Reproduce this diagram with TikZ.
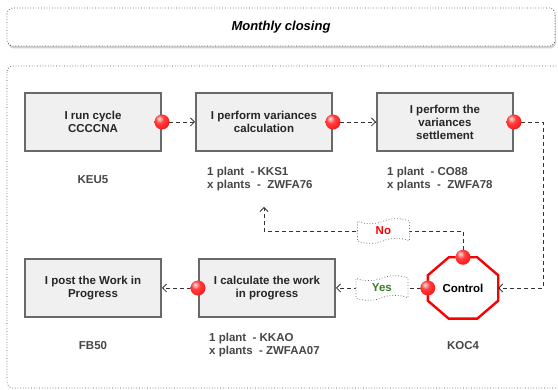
\documentclass[tikz,border=0pt]{standalone}
\usepackage{fontspec}
\setmainfont{Liberation Sans}
\usetikzlibrary{arrows.meta, shapes.symbols, shadows}
\definecolor{boxfill}{RGB}{240, 240, 240}
\definecolor{boxline}{RGB}{105, 105, 105}
\definecolor{txt}{RGB}{70, 70, 70}
\definecolor{yesgreen}{RGB}{60, 125, 40}
\definecolor{ctrlred}{RGB}{250, 0, 0}
\pgfdeclareradialshading{reddot}{\pgfpoint{-10bp}{12bp}}{%
  color(0bp)=(red!10!white); color(14bp)=(red!75!white); color(36bp)=(red!95!white);
  color(52bp)=(red!80!black); color(70bp)=(red!80!black)}
\tikzset{
  task/.style={draw=boxline, line width=2pt, fill=boxfill, minimum width=136pt,
    minimum height=58pt, align=center, font=\bfseries\fontsize{11.5}{13}\selectfont, text=black!85},
  tcode/.style={inner sep=0pt, align=left, text=txt, font=\bfseries\fontsize{11.5}{13}\selectfont},
  dot/.style={circle, inner sep=0pt, minimum size=15pt, shading=reddot},
  flow/.style={draw=black!80, line width=0.8pt, dash pattern=on 4pt off 3pt,
    -{Straight Barb[length=4pt, width=8pt]}},
  lbl/.style={tape, draw=black!55, dotted, fill=white, minimum width=52pt, minimum height=22pt,
    tape bend height=5pt, font=\bfseries\fontsize{11.5}{13}\selectfont},
  frame/.style={draw=black!70, dotted, line width=0.7pt, rounded corners=6pt}
}

\begin{document}
\begin{tikzpicture}[x=1pt, y=-1pt]
  \useasboundingbox (0, 0) rectangle (558, 390);

  % header
  \draw[frame, fill=white, drop shadow={shadow xshift=1pt, shadow yshift=-2.5pt, fill=black!35}]
    (7, 8) rectangle (555, 46);
  \node[font=\bfseries\itshape\fontsize{13}{15}\selectfont] (title) at (281, 27) {Monthly closing};

  % process frame
  \draw[frame] (7, 66) rectangle (566, 388);

  % steps
  \node[task] (b1) at (93, 122) {I run cycle\\CCCCNA};
  \node[task] (b2) at (264, 122) {I perform variances\\calculation};
  \node[task] (b3) at (445, 122) {I perform the\\variances\\settlement};
  \node[task] (b4) at (93, 288) {I post the Work in\\Progress};
  \node[task] (b5) at (267, 288) {I calculate the work\\in progress};
  \node[minimum width=70pt, minimum height=61pt,
    font=\bfseries\fontsize{11.5}{13}\selectfont] (ctrl) at (463, 288) {Control};
  \draw[ctrlred, line width=2.4pt, line join=miter]
    ([xshift=21pt]ctrl.north west) -- ([xshift=-21pt]ctrl.north east)
    -- ([yshift=-18pt]ctrl.north east) -- ([yshift=18pt]ctrl.south east)
    -- ([xshift=-21pt]ctrl.south east) -- ([xshift=21pt]ctrl.south west)
    -- ([yshift=18pt]ctrl.south west) -- ([yshift=-18pt]ctrl.north west) -- cycle;

  % transactions
  \node[tcode] (t1) at (93, 180) {KEU5};
  \node[tcode, anchor=west] (t2) at (207, 179.5) {1 plant~ - KKS1\\x plants~ -~ ZWFA76};
  \node[tcode, anchor=west] (t3) at (387, 179.5) {1 plant~ - CO88\\x plants~ -~ ZWFA78};
  \node[tcode] (t4) at (93, 346) {FB50};
  \node[tcode, anchor=west] (t5) at (209, 345.5) {1 plant~ - KKAO\\x plants~ - ZWFAA07};
  \node[tcode] (t6) at (463, 346) {KOC4};

  % links
  \coordinate (turn) at (543, 288);
  \coordinate (noturn) at (264, 231);
  \coordinate (back) at (264, 207);

  \draw[flow] (b1.east) -- (b2.west);
  \draw[flow] (b2.east) -- (b3.west);
  \draw[flow] (b3.east) -| (turn) -- (ctrl.east);
  \draw[flow] (ctrl.north) |- node[pos=0.7, lbl, text=ctrlred] (no) {No} (noturn) -- (back);
  \draw[flow] (ctrl.west) -- node[lbl, text=yesgreen] (yes) {Yes} (b5.east);
  \draw[flow] (b5.west) -- (b4.east);

  % connectors
  \node[dot] (d1) at (b1.east) {};
  \node[dot] (d2) at (b2.east) {};
  \node[dot] (d3) at (b3.east) {};
  \node[dot] (d4) at (ctrl.north) {};
  \node[dot] (d5) at (ctrl.west) {};
  \node[dot] (d6) at (b5.west) {};
\end{tikzpicture}
\end{document}
